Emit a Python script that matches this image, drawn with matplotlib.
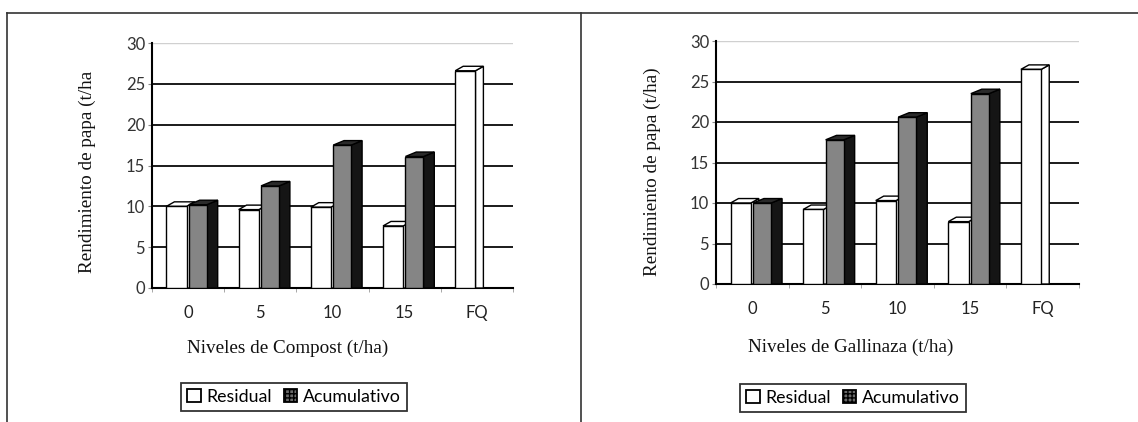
import numpy as np
import matplotlib
matplotlib.use("Agg")
import matplotlib.pyplot as plt
from matplotlib.patches import Polygon, Rectangle, Patch
from matplotlib.lines import Line2D

categories = ["0", "5", "10", "15", "FQ"]
yticks = [0, 5, 10, 15, 20, 25, 30]

compost_residual = [10.0, 9.6, 9.9, 7.6, 26.6]
compost_acumulativo = [10.2, 12.5, 17.5, 16.1, np.nan]

gallinaza_residual = [10.0, 9.2, 10.3, 7.7, 26.5]
gallinaza_acumulativo = [10.0, 17.8, 20.6, 23.5, np.nan]

xlabels = ["Niveles de Compost (t/ha)", "Niveles de Gallinaza (t/ha)"]
ylabels = ["Rendimiento de papa (t/ha", "Rendimiento de papa (t/ha)"]
legend_labels = ["Residual", "Acumulativo"]

SANS = ["Lato", "DejaVu Sans"]
SERIF = ["Liberation Serif", "DejaVu Serif"]

W, H = 1138, 422
fig = plt.figure(figsize=(W / 100, H / 100), dpi=100)
fig.patch.set_facecolor("white")


def px_axes(l, r, top, bot):
    return [l / W, 1 - bot / H, (r - l) / W, (bot - top) / H]


def bar3d(ax, x0, w, h, face, side, top, dx=0.13, dz=0.55, lw=1.0, z=3):
    x1 = x0 + w
    ax.add_patch(Polygon([(x1, 0), (x1 + dx, 0), (x1 + dx, h + dz), (x1, h)],
                         closed=True, facecolor=side, edgecolor="black", lw=lw, zorder=z))
    ax.add_patch(Polygon([(x0, h), (x1, h), (x1 + dx, h + dz), (x0 + dx, h + dz)],
                         closed=True, facecolor=top, edgecolor="black", lw=lw, zorder=z))
    ax.add_patch(Rectangle((x0, 0), w, h, facecolor=face, edgecolor="black", lw=lw, zorder=z + 0.1))


def panel(rect, residual, acum, xlabel, ylabel, xl_center, leg_center, yl_center):
    ax = fig.add_axes(rect)
    n = len(categories)
    ax.set_xlim(-0.5, n - 0.5)
    ax.set_ylim(0, 30)
    for v in yticks[1:-1]:
        ax.axhline(v, color="#1a1a1a", lw=1.4, zorder=1)
    ax.axhline(30, color="#d0d0d0", lw=1.0, zorder=1)
    pos = np.arange(n)
    for i in range(n):
        r = residual[i]
        a = acum[i]
        if not np.isnan(r):
            bar3d(ax, pos[i] - 0.30, 0.28, r, "white", "white", "white", dx=0.11, z=3)
        if not np.isnan(a):
            bar3d(ax, pos[i] + 0.01, 0.25, a, "#858585", "#151515", "#2a2a2a", dx=0.15, z=4)
    ax.set_xticks(pos)
    ax.set_xticklabels(categories, fontfamily=SANS, fontsize=12, color="#222")
    ax.set_xticks(np.arange(n + 1) - 0.5, minor=True)
    ax.tick_params(axis="x", which="major", length=0, pad=12)
    ax.tick_params(axis="x", which="minor", length=3, color="#999")
    ax.set_yticks(yticks)
    ax.set_yticklabels([str(t) for t in yticks], fontfamily=SANS, fontsize=12, color="#333")
    ax.tick_params(axis="y", length=3, color="#888", pad=2)
    for s in ["top", "right"]:
        ax.spines[s].set_visible(False)
    ax.spines["left"].set_linewidth(1.5)
    ax.spines["bottom"].set_linewidth(1.5)
    ax.set_facecolor("white")
    fig.text(xl_center[0] / W, 1 - xl_center[1] / H, xlabel, ha="center", va="center",
             fontfamily=SERIF, fontsize=13.8, color="#111")
    fig.text(yl_center[0] / W, 1 - yl_center[1] / H, ylabel, ha="center", va="center",
             rotation=90, fontfamily=SERIF, fontsize=13.8, color="#111")
    handles = [Patch(facecolor="white", edgecolor="black", lw=1.3),
               Patch(facecolor="#6a6a6a", edgecolor="black", hatch="++++", lw=1.3)]
    leg = fig.legend(handles, legend_labels, loc="center",
                     bbox_to_anchor=(leg_center[0] / W, 1 - leg_center[1] / H),
                     ncol=2, frameon=True, fancybox=False, edgecolor="black",
                     prop={"family": SANS, "size": 12.8}, handlelength=0.75, handleheight=0.75,
                     handletextpad=0.3, columnspacing=0.7, borderpad=0.35, borderaxespad=0)
    leg.get_frame().set_linewidth(1.3)
    return ax


panel(px_axes(152, 513, 43, 288), compost_residual, compost_acumulativo,
      xlabels[0], ylabels[0], (288, 348), (294, 397), (87, 172))
panel(px_axes(716, 1079, 41, 284), gallinaza_residual, gallinaza_acumulativo,
      xlabels[1], ylabels[1], (851, 347), (853, 398), (652, 172))

# frame lines
fig.add_artist(Line2D([7 / W, 1], [1 - 13 / H, 1 - 13 / H], color="#333", lw=1.2))
fig.add_artist(Line2D([7 / W, 7 / W], [0, 1 - 13 / H], color="#333", lw=1.2))
fig.add_artist(Line2D([581 / W, 581 / W], [0, 1 - 13 / H], color="#333", lw=1.2))

fig.savefig("out.png", dpi=100, facecolor="white")
